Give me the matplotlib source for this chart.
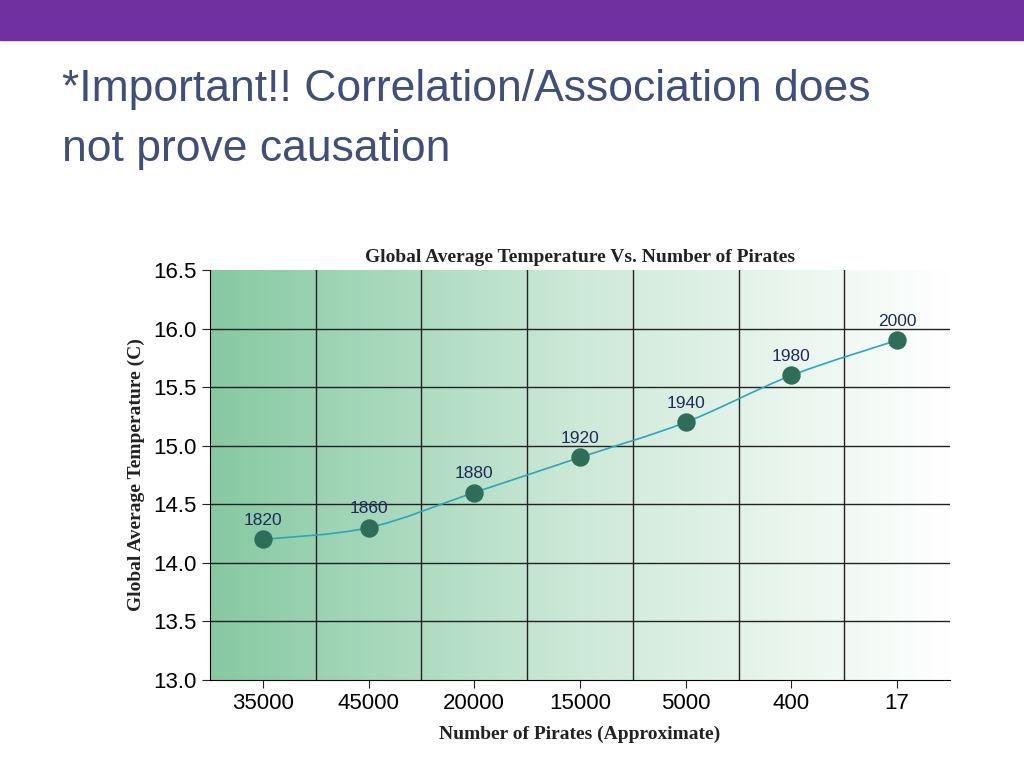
import numpy as np
import matplotlib
matplotlib.use("Agg")
import matplotlib.pyplot as plt
from matplotlib.path import Path
from matplotlib.patches import PathPatch
from matplotlib.colors import LinearSegmentedColormap

pirates = ["35000", "45000", "20000", "15000", "5000", "400", "17"]
years = ["1820", "1860", "1880", "1920", "1940", "1980", "2000"]
temps = [14.2, 14.3, 14.6, 14.9, 15.2, 15.6, 15.9]

fig = plt.figure(figsize=(10.24, 7.68), dpi=100)
fig.patch.set_facecolor("white")

# purple band on top
fig.patches.append(plt.Rectangle((0, 1 - 40 / 768), 1, 40 / 768, transform=fig.transFigure,
                                 color="#7030A0", zorder=0))
fig.text(62 / 1024, 1 - 90 / 768, "*Important!! Correlation/Association does",
         fontsize=32, color="#3F4F7A", family="Liberation Sans", va="center")
fig.text(62 / 1024, 1 - 150 / 768, "not prove causation",
         fontsize=32, color="#3F4F7A", family="Liberation Sans", va="center")

ax = fig.add_axes([210 / 1024, 88 / 768, 740 / 1024, 410 / 768])
x = np.arange(len(pirates))
ax.set_xlim(-0.5, len(pirates) - 0.5)
ax.set_ylim(13.0, 16.5)

cmap = LinearSegmentedColormap.from_list("g", ["#86c9a2", "#cde9d8", "#ffffff"])
ax.imshow(np.linspace(0, 1, 256).reshape(1, -1), cmap=cmap, aspect="auto",
          extent=(-0.5, len(pirates) - 0.5, 13.0, 16.5), zorder=0)

for xv in np.arange(0.5, len(pirates) - 0.5):
    ax.axvline(xv, color="#222222", lw=1, zorder=1)
for yv in np.arange(13.5, 16.5, 0.5):
    ax.axhline(yv, color="#222222", lw=1, zorder=1)

# smooth line (Catmull-Rom as bezier segments)
pts = np.column_stack([x, temps]).astype(float)
verts = [tuple(pts[0])]
codes = [Path.MOVETO]
for i in range(len(pts) - 1):
    p0 = pts[max(i - 1, 0)]
    p1, p2 = pts[i], pts[i + 1]
    p3 = pts[min(i + 2, len(pts) - 1)]
    c1 = p1 + (p2 - p0) / 6
    c2 = p2 - (p3 - p1) / 6
    verts += [tuple(c1), tuple(c2), tuple(p2)]
    codes += [Path.CURVE4] * 3
ax.add_patch(PathPatch(Path(verts, codes), fill=False, color="#2aa7b8", lw=1.2, zorder=2))
ax.scatter(x, temps, s=150, color="#2e6e58", zorder=3)
for xi, t, yr in zip(x, temps, years):
    ax.text(xi, t + 0.1, yr, ha="center", va="bottom", fontsize=12.5,
            family="Liberation Sans", color="#1f2a5a")

ax.set_xticks(x)
ax.set_xticklabels(pirates, fontsize=16, family="Liberation Sans")
ax.set_yticks(np.arange(13.0, 16.51, 0.5))
ax.set_yticklabels([f"{v:.1f}" for v in np.arange(13.0, 16.51, 0.5)], fontsize=16,
                   family="Liberation Sans")
ax.tick_params(length=6, color="#222222")
for s in ["top", "right"]:
    ax.spines[s].set_visible(False)
ax.set_title("Global Average Temperature Vs. Number of Pirates", fontsize=14,
             family="Liberation Serif", weight="bold", color="#222222", pad=6)
ax.set_xlabel("Number of Pirates (Approximate)", fontsize=14, family="Liberation Serif",
              weight="bold", color="#222222", labelpad=8)
ax.set_ylabel("Global Average Temperature (C)", fontsize=14, family="Liberation Serif",
              weight="bold", color="#222222", labelpad=6)

fig.savefig("out.png", dpi=100)
